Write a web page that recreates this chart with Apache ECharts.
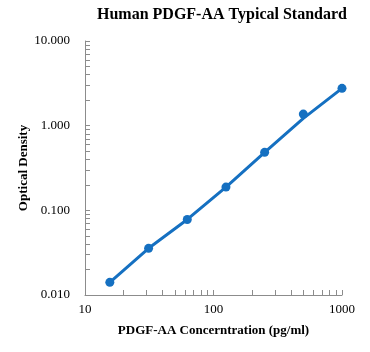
<!DOCTYPE html>
<html>
<head>
<meta charset="utf-8">
<script src="https://cdn.jsdelivr.net/npm/echarts@6/dist/echarts.min.js"></script>
<style>
  html, body { margin: 0; padding: 0; background: #fff; }
  #chart { width: 370px; height: 352px; }
</style>
</head>
<body>
<div id="chart"></div>
<script>
// 浓度 (pg/ml)
const concentration = [15.6, 31.25, 62.5, 125, 250, 500, 1000]
// 测得的 OD 值
const odValues = [0.0141, 0.0356, 0.078, 0.188, 0.484, 1.37, 2.76]
// 拟合曲线
const fitValues = [0.0141, 0.0356, 0.078, 0.188, 0.484, 1.22, 2.76]
// 刻度
const xTicks = [10, 20, 30, 40, 50, 60, 70, 80, 90, 100, 200, 300, 400, 500, 600, 700, 800, 900, 1000]
const xLabels = [10, 100, 1000]
const yTicks = [0.01, 0.02, 0.03, 0.04, 0.05, 0.06, 0.07, 0.08, 0.09,
  0.1, 0.2, 0.3, 0.4, 0.5, 0.6, 0.7, 0.8, 0.9,
  1, 2, 3, 4, 5, 6, 7, 8, 9, 10]
const yLabels = [0.01, 0.1, 1, 10]

const blue = '#1570c1'
const axisGrey = '#8c8c8c'
const serif = 'Liberation Serif'

const chart = echarts.init(document.getElementById('chart'))

const option = {
  animation: false,
  title: {
    text: 'Human PDGF-AA Typical Standard',
    left: 97,
    top: 7,
    padding: 0,
    textStyle: { fontFamily: serif, fontSize: 16, fontWeight: 'bold', color: '#000' }
  },
  grid: { left: 85, right: 28, top: 41, bottom: 57 },
  xAxis: {
    type: 'log',
    min: 10,
    max: 1000,
    name: 'PDGF-AA Concerntration (pg/ml)',
    nameLocation: 'middle',
    nameGap: 29,
    nameMoveOverlap: false,
    nameTextStyle: { fontFamily: serif, fontSize: 13, fontWeight: 'bold', color: '#000' },
    axisLine: { lineStyle: { color: axisGrey, width: 1 } },
    axisTick: { inside: true, length: 5, customValues: xTicks, lineStyle: { color: axisGrey } },
    axisLabel: {
      customValues: xLabels,
      fontFamily: serif,
      fontSize: 13,
      color: '#000',
      margin: 8,
      formatter: (v) => String(Math.round(v))
    },
    splitLine: { show: false }
  },
  yAxis: {
    type: 'log',
    min: 0.01,
    max: 10,
    name: 'Optical Density',
    nameLocation: 'middle',
    nameGap: 55,
    nameMoveOverlap: false,
    nameTextStyle: { fontFamily: serif, fontSize: 13, fontWeight: 'bold', color: '#000' },
    axisLine: { show: true, lineStyle: { color: axisGrey, width: 1 } },
    axisTick: { show: true, inside: true, length: 5, customValues: yTicks, lineStyle: { color: axisGrey } },
    axisLabel: {
      customValues: yLabels,
      fontFamily: serif,
      fontSize: 13,
      color: '#000',
      margin: 15,
      formatter: (v) => Number(v).toFixed(3)
    },
    splitLine: { show: false }
  },
  series: [
    {
      type: 'line',
      data: concentration.map((x, i) => [x, fitValues[i]]),
      symbol: 'none',
      lineStyle: { color: blue, width: 3 },
      z: 2
    },
    {
      type: 'scatter',
      data: concentration.map((x, i) => [x, odValues[i]]),
      symbolSize: 9,
      itemStyle: { color: blue, opacity: 1 },
      z: 3
    }
  ]
}

chart.setOption(option)
</script>
</body>
</html>
